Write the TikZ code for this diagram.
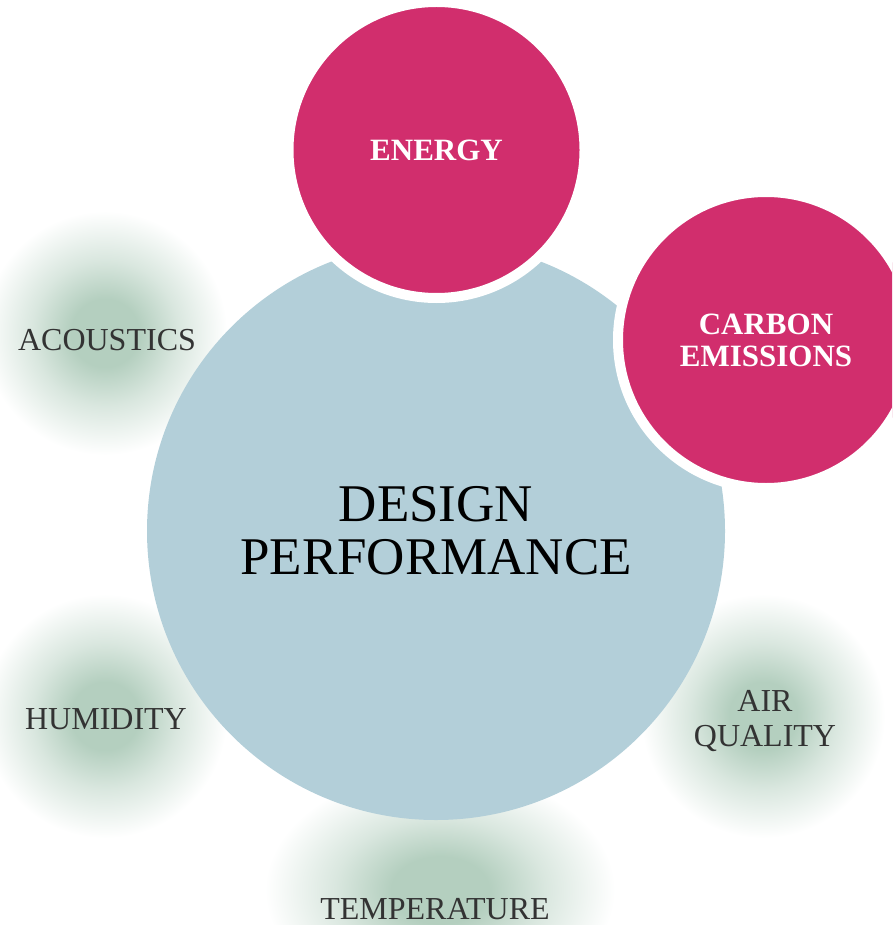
\documentclass[tikz,border=0pt]{standalone}
\usepackage{fontspec}
\setmainfont{Liberation Serif}
\usetikzlibrary{shapes,calc}
\definecolor{perfblue}{RGB}{179,207,217}
\definecolor{metricpink}{RGB}{209,46,109}
\definecolor{fuzzgreen}{RGB}{180,207,191}
\definecolor{termgray}{RGB}{51,51,51}
\pgfdeclareradialshading{greenfuzz}{\pgfpoint{0bp}{0bp}}{%
  color(0bp)=(fuzzgreen); color(7bp)=(fuzzgreen);
  color(15bp)=(fuzzgreen!50!white); color(25bp)=(white); color(50bp)=(white)}
\tikzstyle{core}=[circle,
                  fill=perfblue,
                  minimum size=578pt,
                  align=center,
                  text=black,
                  font=\fontsize{53}{53}\selectfont]
\tikzstyle{metric}=[circle,
                    fill=metricpink,
                    draw=white,
                    line width=10pt,
                    minimum size=296pt,
                    align=center,
                    text=white,
                    font=\fontsize{31}{32}\selectfont\bfseries]
\tikzstyle{term}=[align=center, text=termgray,
                  font=\fontsize{32}{35}\selectfont]
\tikzstyle{fuzz}=[shading=greenfuzz]

\begin{document}
\begin{tikzpicture}[x=1pt,y=-1pt]
      \useasboundingbox (0,0) rectangle (892,925);
      \clip (0,0) rectangle (892,925);

      % soft green patches behind the side terms
      \shade [fuzz] (105,333) circle [radius=122pt];
      \shade [fuzz] (105,716) circle [radius=122pt];
      \shade [fuzz] (763,716) circle [radius=122pt];
      \shade [fuzz] (440,890) ellipse [x radius=175pt, y radius=120pt];

      \node [term] (acoustics) at (107,340) {ACOUSTICS};
      \node [term] (humidity) at (106,719) {HUMIDITY};
      \node [term] (airquality) at (765,721) {AIR\\QUALITY};
      \node [term] (temperature) at (435,909) {TEMPERATURE};

      \node [core] (design) at (436,531) {DESIGN\\PERFORMANCE};

      \node [metric] (energy) at (436.5,150) {ENERGY};
      \node [metric] (carbon) at (766,340) {CARBON\\EMISSIONS};
\end{tikzpicture}
\end{document}
